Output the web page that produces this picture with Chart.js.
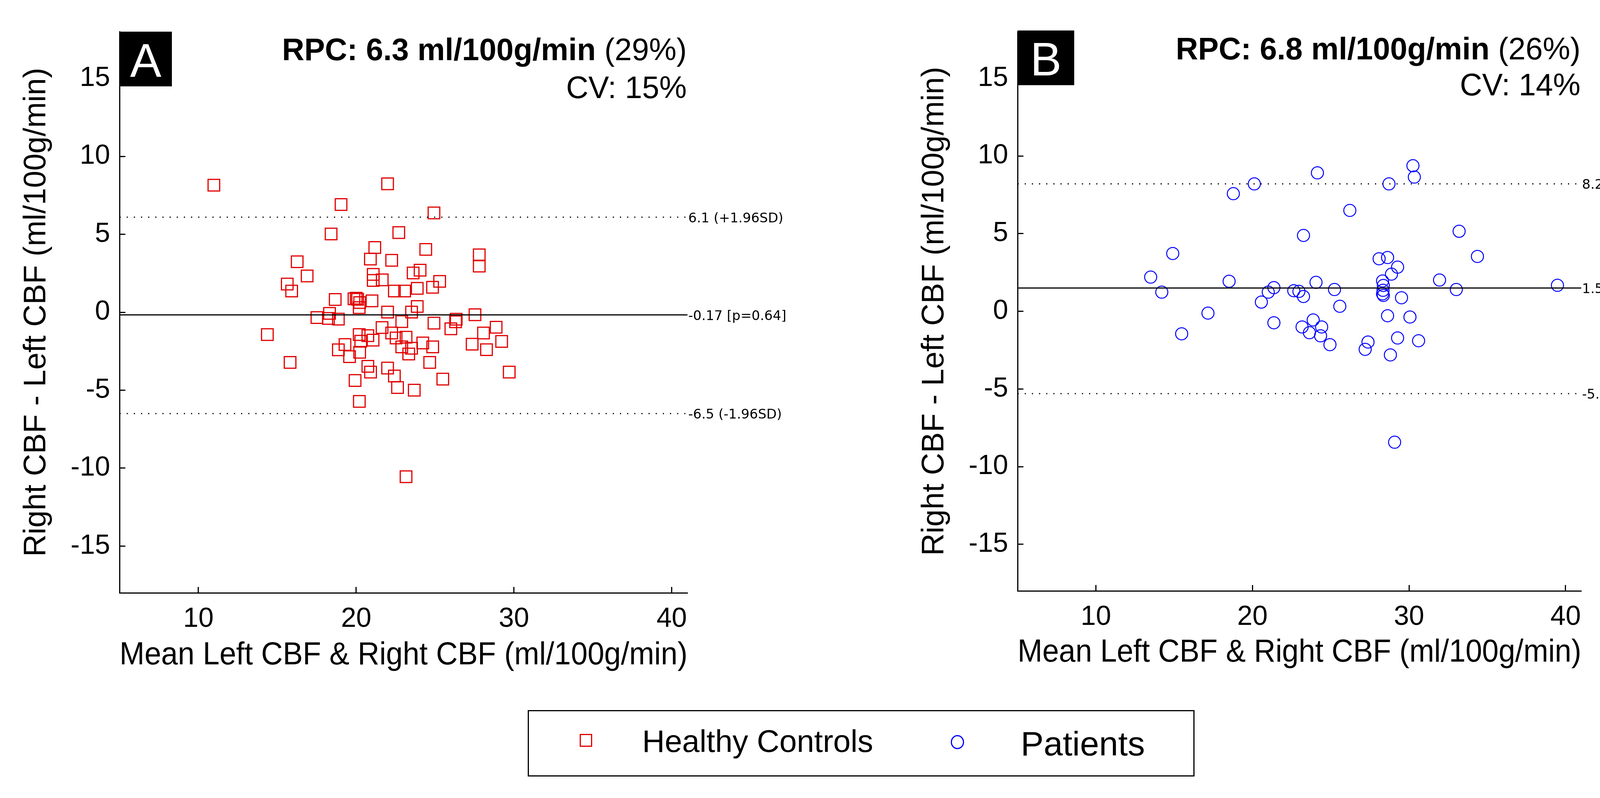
<!DOCTYPE html>
<html><head><meta charset="utf-8">
<script src="https://cdn.jsdelivr.net/npm/chart.js@4.4.1/dist/chart.umd.min.js"></script>
<style>
html,body{margin:0;padding:0;background:#fff;}
body{width:4401px;height:2042px;position:relative;overflow:hidden;font-family:"Liberation Sans",Arial,sans-serif;}
canvas{position:absolute;top:0;}
#legend{position:absolute;left:1351px;top:1817px;width:1707px;height:170px;border:3px solid #000;box-sizing:border-box;background:#fff;}
#legend .mk{position:absolute;box-sizing:border-box;}
#legend .sq{left:130px;top:58px;width:32px;height:33px;border:3px solid rgb(225,0,0);}
#legend .ci{left:1080px;top:61px;width:34px;height:36px;border:3px solid #0000ff;border-radius:50%;}
#legend .lt{position:absolute;line-height:1;white-space:nowrap;color:#000;}
</style></head><body>
<canvas id="cA" width="2200" height="1780" style="left:0;width:2200px;height:1780px"></canvas>
<canvas id="cB" width="2102" height="1780" style="left:2299px;width:2102px;height:1780px"></canvas>
<div id="legend">
  <div class="mk sq"></div><span class="lt" id="lg0" style="left:290px;top:37px;font-size:80px"></span>
  <div class="mk ci"></div><span class="lt" id="lg1" style="left:1259px;top:39px;font-size:88px"></span>
</div>
<script>
// ---- axes ----
const xRange = [5, 41];
const yRange = [-18, 18];
const xTicks = [10, 20, 30, 40];
const yTicks = [-15, -10, -5, 0, 5, 10, 15];
const xTitle = 'Mean Left CBF & Right CBF (ml/100g/min)';
const yTitle = 'Right CBF - Left CBF (ml/100g/min)';
const seriesNames = ['Healthy Controls', 'Patients'];

// ---- panel A: healthy controls ----
const controlsX = [10.98, 21.99, 19.04, 24.93, 18.41, 22.70, 21.18, 24.41, 20.90, 22.25, 27.80, 27.80, 16.26, 16.89, 15.63, 15.91,
  21.08, 21.08, 21.65, 23.61, 24.05, 25.29, 24.84, 23.87, 22.42, 23.07, 18.67, 20.00, 20.09, 21.00, 20.19, 20.22, 23.87, 23.51,
  21.99, 22.89, 17.51, 18.31, 18.24, 18.87, 26.34, 26.30, 27.53, 24.93, 26.00, 21.64, 14.37, 22.25, 22.53, 23.16, 24.22, 24.85,
  28.07, 28.87, 29.22, 27.35, 28.26, 20.19, 20.74, 21.07, 20.29, 19.29, 18.87, 19.58, 20.22, 22.89, 23.51, 23.33, 24.66, 20.74,
  20.91, 21.99, 22.42, 15.81, 19.93, 22.62, 23.68, 25.49, 29.70, 20.20, 23.16, 19.86];
const controlsY = [8.15, 8.24, 6.91, 6.37, 5.02, 5.11, 4.15, 4.03, 3.41, 3.33, 3.68, 2.96, 3.24, 2.33, 1.81, 1.36,
  2.43, 2.04, 2.08, 2.52, 2.70, 1.98, 1.60, 1.53, 1.36, 1.36, 0.82, 0.90, 0.83, 0.73, 0.30, 0.62, 0.37, 0.01,
  0.01, -0.60, -0.34, -0.07, -0.40, -0.44, -0.45, -0.61, -0.16, -0.70, -1.06, -0.98, -1.43, -1.33, -1.65, -1.60, -1.97, -2.22,
  -1.33, -0.96, -1.87, -2.05, -2.40, -1.43, -1.50, -1.79, -1.86, -2.07, -2.41, -2.85, -2.57, -2.22, -2.31, -2.68, -3.22, -3.47,
  -3.84, -3.58, -4.09, -3.22, -4.38, -4.83, -5.00, -4.29, -3.84, -5.72, -10.55, 0.86];
const controlsLimits = [6.1, -0.17, -6.5];            // +1.96SD, mean, -1.96SD
const controlsLimitLabels = ['6.1 (+1.96SD)', '-0.17 [p=0.64]', '-6.5 (-1.96SD)'];

// ---- panel B: patients ----
const patientsX = [30.25, 30.34, 24.15, 20.12, 28.72, 18.78, 26.22, 23.26, 33.20, 14.91, 34.37, 28.09, 28.63, 29.27, 28.88, 13.50,
  18.51, 24.06, 31.95, 28.31, 28.36, 39.48, 14.21, 21.37, 21.01, 22.64, 22.97, 23.26, 25.24, 33.02, 28.31, 28.36, 29.52, 20.57,
  25.58, 17.16, 28.63, 30.06, 21.37, 23.88, 23.17, 24.42, 23.64, 24.35, 15.48, 24.95, 27.38, 27.20, 29.27, 30.61, 28.81, 29.08, 28.34];
const patientsY = [9.37, 8.64, 8.91, 8.20, 8.20, 7.57, 6.49, 4.88, 5.15, 3.72, 3.53, 3.38, 3.46, 2.84, 2.39, 2.20,
  1.93, 1.86, 2.01, 1.95, 1.66, 1.67, 1.23, 1.52, 1.23, 1.32, 1.28, 0.95, 1.40, 1.40, 1.12, 1.02, 0.87, 0.59,
  0.32, -0.12, -0.29, -0.37, -0.74, -0.56, -1.01, -1.01, -1.38, -1.58, -1.45, -2.15, -1.98, -2.45, -1.72, -1.90, -2.81, -8.43, 1.35];
const patientsLimits = [8.2, 1.5, -5.3];
const patientsLimitLabels = ['8.2 (+1.96SD)', '1.5 [p=0.0028]', '-5.3 (-1.96SD)'];

// ---- panel texts ----
const panelLetters = ['A', 'B'];
const rpcBold = ['RPC: 6.3 ml/100g/min', 'RPC: 6.8 ml/100g/min'];
const rpcPct = ['(29%)', '(26%)'];
const cvTexts = ['CV: 15%', 'CV: 14%'];

document.getElementById('lg0').textContent = seriesNames[0];
document.getElementById('lg1').textContent = seriesNames[1];

const FAM = '"Liberation Sans", Arial, sans-serif';

const decor = {
  id: 'decor',
  afterDatasetsDraw(chart, args, o) {
    const {ctx, chartArea: ca} = chart;
    const ys = chart.scales.y;
    ctx.save();
    // panel letter box
    ctx.fillStyle = '#000';
    ctx.fillRect(ca.left, ca.top + o.boxDy, o.boxW, 140);
    ctx.fillStyle = '#fff';
    ctx.font = '120px ' + FAM;
    ctx.textAlign = 'center';
    ctx.textBaseline = 'alphabetic';
    ctx.fillText(o.letter, ca.left + o.boxW / 2, ca.top + o.boxDy + 115);
    // RPC / CV
    ctx.fillStyle = '#000';
    ctx.textAlign = 'right';
    ctx.font = '79px ' + FAM;
    const xr = ca.right - 2;
    ctx.fillText(o.pct, xr, ca.top + o.t1);
    const pw = ctx.measureText(o.pct).width + ctx.measureText(' ').width;
    ctx.fillText(o.cv, xr, ca.top + o.t2);
    ctx.font = 'bold 79px ' + FAM;
    ctx.fillText(o.rpc, xr - pw, ca.top + o.t1);
    // limit labels
    ctx.font = '34px "DejaVu Sans", sans-serif';
    ctx.textAlign = 'left';
    ctx.textBaseline = 'middle';
    o.limits.forEach((v, i) => {
      ctx.fillText(o.labels[i], ca.right + 2, ys.getPixelForValue(v) + 4);
    });
    ctx.restore();
  }
};

function makePanel(id, idx, geo, xs, ysData, limits, labels, mk) {
  const lineData = v => [{x: xRange[0], y: v}, {x: xRange[1], y: v}];
  const pts = xs.map((x, i) => ({x: x, y: ysData[i]}));
  return new Chart(document.getElementById(id), {
    type: 'scatter',
    data: {
      datasets: [
        {type: 'line', data: lineData(limits[1]), borderColor: '#000', borderWidth: 3, pointRadius: 0, fill: false},
        {type: 'line', data: lineData(limits[0]), borderColor: '#000', borderWidth: 3, borderDash: [3, 15.3], pointRadius: 0, fill: false},
        {type: 'line', data: lineData(limits[2]), borderColor: '#000', borderWidth: 3, borderDash: [3, 15.3], pointRadius: 0, fill: false},
        {label: seriesNames[idx], data: pts, pointStyle: mk.shape, pointRadius: mk.r, pointBorderWidth: mk.bw,
         borderColor: mk.color, pointBorderColor: mk.color, backgroundColor: 'rgba(0,0,0,0)', pointBackgroundColor: 'rgba(0,0,0,0)'}
      ]
    },
    options: {
      responsive: false, animation: false, devicePixelRatio: 1,
      layout: {padding: {left: 0, top: geo.top, right: geo.W - geo.right, bottom: 0}},
      plugins: {
        legend: {display: false}, tooltip: {enabled: false},
        decor: {letter: panelLetters[idx], rpc: rpcBold[idx], pct: rpcPct[idx], cv: cvTexts[idx],
                boxW: geo.boxW, boxDy: geo.boxDy, t1: geo.t1, t2: geo.t2, limits: limits, labels: labels}
      },
      scales: {
        x: {
          type: 'linear', position: 'bottom', min: xRange[0], max: xRange[1],
          afterBuildTicks: s => { s.ticks = xTicks.map(v => ({value: v})); },
          afterFit: s => { s.height = geo.H - geo.bottom; },
          border: {display: true, color: '#000', width: 3},
          grid: {display: true, drawOnChartArea: false, drawTicks: true, tickLength: -15, tickWidth: 3, tickColor: '#000'},
          ticks: {color: '#000', font: {family: FAM, size: 70}, padding: 41, maxRotation: 0, autoSkip: false},
          title: {display: true, text: xTitle, color: '#000', font: {family: FAM, size: 81}, padding: {top: 0, bottom: geo.xtp}}
        },
        y: {
          type: 'linear', position: 'left', min: yRange[0], max: yRange[1],
          afterBuildTicks: s => { s.ticks = yTicks.map(v => ({value: v})); },
          afterFit: s => { s.width = geo.left; },
          border: {display: true, color: '#000', width: 3},
          grid: {display: true, drawOnChartArea: false, drawTicks: true, tickLength: -15, tickWidth: 3, tickColor: '#000'},
          ticks: {color: '#000', font: {family: FAM, size: 70}, padding: 39, autoSkip: false},
          title: {display: true, text: yTitle, color: '#000', font: {family: FAM, size: 79}, padding: {top: 47, bottom: 0}}
        }
      }
    },
    plugins: [decor]
  });
}

makePanel('cA', 0, {W: 2200, H: 1780, left: 306, right: 1760, top: 57, bottom: 1517, xtp: 54, boxW: 134, boxDy: 0, t1: 73, t2: 170},
  controlsX, controlsY, controlsLimits, controlsLimitLabels,
  {shape: 'rect', r: 21, bw: 3, color: 'rgb(225,0,0)'});
makePanel('cB', 1, {W: 2102, H: 1780, left: 306, right: 1749, top: 64, bottom: 1512, xtp: 61, boxW: 145, boxDy: -3, t1: 71, t2: 163},
  patientsX, patientsY, patientsLimits, patientsLimitLabels,
  {shape: 'circle', r: 15.5, bw: 2.5, color: '#0000ff'});
</script>
</body></html>
